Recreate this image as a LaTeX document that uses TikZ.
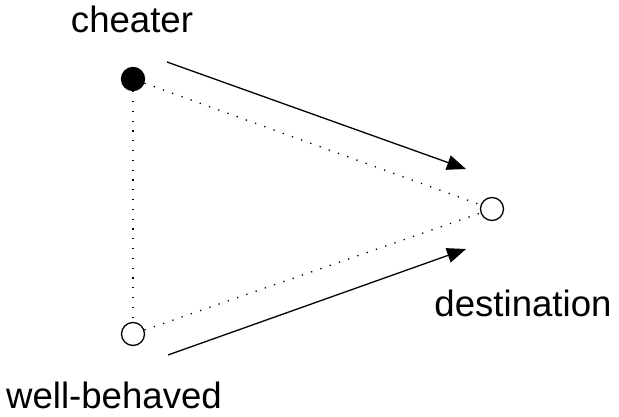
\documentclass[tikz,border=0pt]{standalone}
\usepackage{fontspec}
\setmainfont{Liberation Sans}
\usetikzlibrary{arrows.meta}
\begin{document}
\begin{tikzpicture}[x=1pt,y=1pt,
  host/.style={circle,draw=black,line width=1.3pt,minimum size=23pt,inner sep=0pt},
  link/.style={line width=1.3pt,dash pattern=on 1.3pt off 8.5pt},
  flow/.style={line width=1.3pt,-{Triangle[length=19pt,width=15pt]}},
  lbl/.style={font=\fontsize{36.6}{44}\selectfont,anchor=base,inner sep=0pt}]
\useasboundingbox (0,0) rectangle (619,417);
\node[host,fill=black] (c) at (133,338) {};
\node[host] (d) at (492,208) {};
\node[host] (w) at (133,83) {};
\draw[link] (c) -- (w);
\draw[link] (c) -- (d);
\draw[link] (w) -- (d);
\coordinate (a1) at (167,355);
\coordinate (a2) at (466,248);
\coordinate (b1) at (168,62);
\coordinate (b2) at (466,168);
\draw[flow] (a1) -- (a2);
\draw[flow] (b1) -- (b2);
\node[lbl] (tc) at (132,384) {cheater};
\node[lbl] (td) at (523,100) {destination};
\node[lbl] (tw) at (114,8) {well-behaved};
\end{tikzpicture}
\end{document}
